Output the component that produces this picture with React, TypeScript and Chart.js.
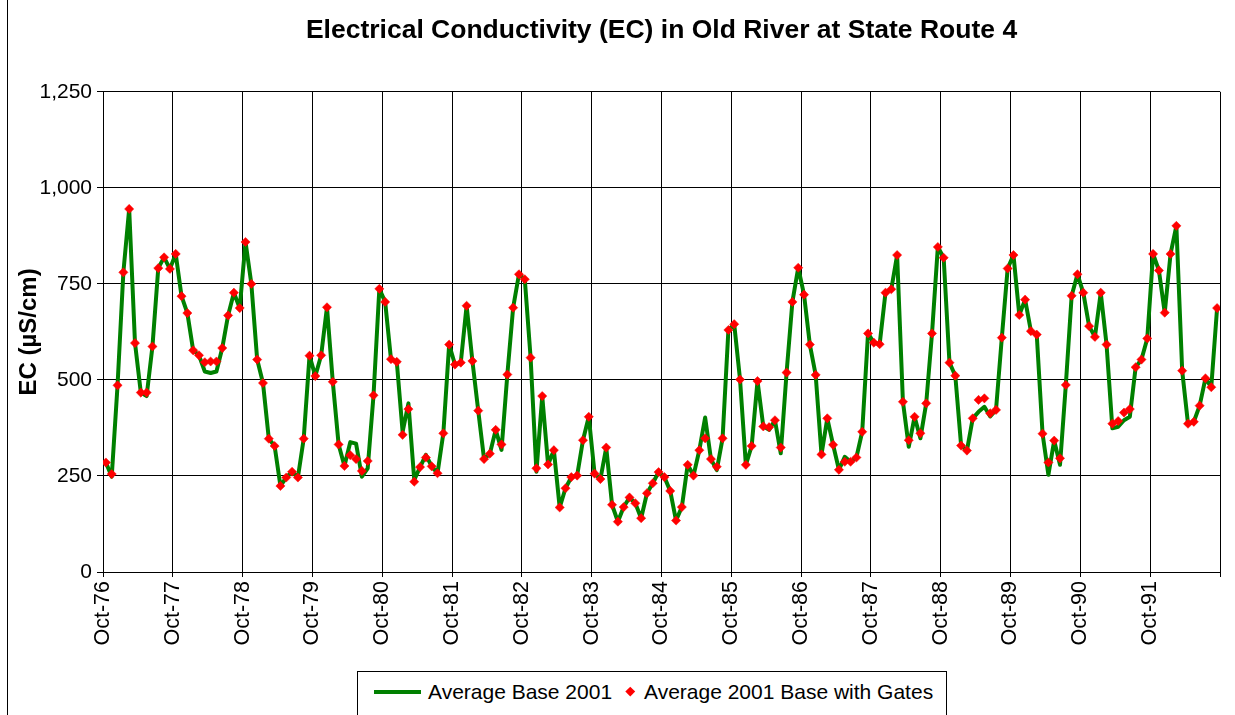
import React, { useEffect, useRef } from 'react';
import { Chart, registerables } from 'chart.js';

Chart.register(...registerables);

const FONT = "'Liberation Sans', Arial, Helvetica, sans-serif";

const chartTitle = 'Electrical Conductivity (EC) in Old River at State Route 4';
const yAxisTitle = 'EC (µS/cm)';
const seriesBaseLabel = 'Average Base 2001';
const seriesGatesLabel = 'Average 2001 Base with Gates';

// one tick label per water year (every 12 months, starting Oct-76)
const tickLabels = [
  'Oct-76', 'Oct-77', 'Oct-78', 'Oct-79', 'Oct-80', 'Oct-81', 'Oct-82', 'Oct-83',
  'Oct-84', 'Oct-85', 'Oct-86', 'Oct-87', 'Oct-88', 'Oct-89', 'Oct-90', 'Oct-91',
];
const yTicks = [0, 250, 500, 750, 1000, 1250];

// monthly EC, Oct-76 .. Sep-92 (192 months)
const gatesEC = [
  285, 255, 486, 780, 945, 596, 467, 467, 587, 791, 819, 789,
  828, 718, 674, 577, 564, 546, 548, 548, 583, 668, 727, 687,
  859, 750, 553, 492, 347, 328, 224, 246, 261, 246, 347, 563,
  510, 564, 689, 495, 332, 276, 304, 294, 263, 289, 460, 737,
  703, 554, 547, 357, 424, 235, 273, 298, 275, 257, 361, 592,
  540, 545, 693, 549, 420, 294, 308, 370, 332, 514, 688, 775,
  762, 558, 270, 458, 280, 317, 168, 218, 247, 251, 343, 404,
  256, 242, 324, 175, 131, 169, 194, 179, 140, 205, 231, 260,
  247, 211, 134, 169, 279, 251, 317, 348, 294, 274, 348, 630,
  645, 501, 279, 328, 497, 379, 377, 395, 324, 519, 703, 792,
  722, 592, 513, 306, 400, 331, 266, 287, 287, 298, 365, 621,
  597, 593, 727, 736, 825, 443, 343, 404, 361, 439, 621, 846,
  818, 545, 511, 329, 316, 400, 448, 452, 413, 422, 610, 790,
  825, 669, 709, 627, 618, 360, 285, 342, 296, 487, 719, 775,
  727, 640, 612, 727, 592, 386, 393, 415, 424, 533, 553, 608,
  828, 785, 675, 828, 901, 524, 386, 391, 433, 504, 481, 687,
];

const baseEC = [
  285, 248, 486, 780, 945, 596, 467, 458, 587, 791, 819, 789,
  828, 718, 674, 577, 564, 522, 518, 522, 583, 668, 727, 687,
  859, 750, 553, 492, 347, 328, 224, 246, 261, 246, 347, 563,
  510, 564, 689, 495, 332, 276, 338, 334, 248, 270, 460, 737,
  703, 554, 547, 365, 439, 240, 273, 305, 275, 257, 361, 592,
  540, 545, 693, 549, 420, 294, 308, 370, 318, 514, 688, 775,
  762, 558, 261, 458, 280, 317, 168, 218, 247, 251, 343, 404,
  256, 242, 324, 175, 131, 169, 194, 179, 140, 205, 231, 260,
  247, 211, 134, 169, 279, 251, 317, 402, 294, 265, 348, 630,
  645, 501, 279, 328, 497, 379, 370, 395, 309, 519, 703, 792,
  722, 592, 513, 306, 400, 331, 266, 300, 287, 298, 365, 621,
  597, 593, 727, 736, 825, 443, 326, 404, 348, 439, 621, 846,
  818, 545, 511, 329, 316, 400, 417, 430, 405, 422, 610, 790,
  825, 669, 709, 627, 618, 360, 253, 342, 279, 487, 719, 775,
  727, 640, 612, 727, 592, 374, 378, 395, 404, 533, 553, 608,
  828, 785, 675, 828, 901, 524, 386, 391, 433, 504, 481, 687,
];

export default function App() {
  const canvasRef = useRef<HTMLCanvasElement | null>(null);

  useEffect(() => {
    const canvas = canvasRef.current;
    if (!canvas) return;
    const chart = new Chart(canvas, {
      type: 'line',
      data: {
        datasets: [
          {
            label: seriesGatesLabel,
            data: gatesEC.map((v, i) => ({ x: i + 0.5, y: v })),
            showLine: false,
            pointStyle: 'rectRot',
            pointRadius: 4.6,
            pointBackgroundColor: '#ff0000',
            pointBorderColor: '#ff0000',
            pointBorderWidth: 0.5,
            order: 0,
          },
          {
            label: seriesBaseLabel,
            data: baseEC.map((v, i) => ({ x: i + 0.5, y: v })),
            borderColor: '#008000',
            borderWidth: 4,
            borderJoinStyle: 'round',
            borderCapStyle: 'round',
            pointRadius: 0,
            tension: 0,
            fill: false,
            order: 1,
          },
        ],
      },
      options: {
        animation: false,
        responsive: false,
        devicePixelRatio: 1,
        layout: { padding: { left: 0, right: 15, top: 0, bottom: 0 } },
        plugins: {
          legend: { display: false },
          tooltip: { enabled: false },
          title: {
            display: true,
            text: chartTitle,
            fullSize: false,
            color: '#000',
            font: { family: FONT, size: 26.5, weight: 'bold' },
            padding: { top: 15, bottom: 45 },
          },
        },
        scales: {
          x: {
            type: 'linear',
            min: 0,
            max: tickLabels.length * 12,
            afterBuildTicks: (scale: any) => {
              const t = tickLabels.map((_, k) => ({ value: k * 12 }));
              t.push({ value: tickLabels.length * 12 });
              scale.ticks = t;
            },
            afterFit: (scale: any) => {
              scale.height = 715 - 572;
              scale.paddingLeft = 0;
              scale.paddingRight = 0;
            },
            ticks: {
              autoSkip: false,
              maxRotation: 90,
              minRotation: 90,
              padding: 4,
              color: '#000',
              font: { family: FONT, size: 21.5 },
              callback: (v: any) => tickLabels[Math.round(Number(v) / 12)] ?? '',
            },
            grid: { color: '#000', lineWidth: 1, tickLength: 5, drawTicks: true },
            border: { color: '#000', width: 1 },
          },
          y: {
            type: 'linear',
            min: 0,
            max: 1250,
            afterBuildTicks: (scale: any) => {
              scale.ticks = yTicks.map((v) => ({ value: v }));
            },
            afterFit: (scale: any) => {
              scale.width = 103;
            },
            ticks: {
              padding: 5,
              color: '#000',
              font: { family: FONT, size: 21 },
              callback: (v: any) => Number(v).toLocaleString('en-US'),
            },
            grid: { color: '#000', lineWidth: 1, tickLength: 6, drawTicks: true },
            border: { color: '#000', width: 1 },
            title: {
              display: true,
              text: yAxisTitle,
              color: '#000',
              font: { family: FONT, size: 24, weight: 'bold' },
              padding: { top: 15, bottom: 0 },
            },
          },
        },
      },
    });
    return () => chart.destroy();
  }, []);

  const legendText: React.CSSProperties = {
    position: 'absolute',
    top: 8,
    lineHeight: '24px',
    fontFamily: FONT,
    fontSize: 21,
    color: '#000',
    whiteSpace: 'nowrap',
  };

  return (
    <div style={{ position: 'absolute', left: 0, top: 0, width: 1235, height: 715, background: '#fff', overflow: 'hidden' }}>
      <canvas ref={canvasRef} width={1235} height={715} style={{ position: 'absolute', left: 0, top: 0, width: 1235, height: 715 }} />
      <div style={{ position: 'absolute', left: 7, top: 0, width: 1, height: 715, background: '#000' }} />
      <div
        style={{
          position: 'absolute',
          left: 357,
          top: 671,
          width: 590,
          height: 60,
          border: '1px solid #000',
          boxSizing: 'border-box',
          background: '#fff',
        }}
      >
        <div style={{ position: 'absolute', left: 16, top: 18, width: 47, height: 4, background: '#008000' }} />
        <span style={{ ...legendText, left: 70 }}>{seriesBaseLabel}</span>
        <div
          style={{
            position: 'absolute',
            left: 269,
            top: 16,
            width: 6.5,
            height: 6.5,
            background: '#ff0000',
            transform: 'rotate(45deg)',
          }}
        />
        <span style={{ ...legendText, left: 286 }}>{seriesGatesLabel}</span>
      </div>
    </div>
  );
}
